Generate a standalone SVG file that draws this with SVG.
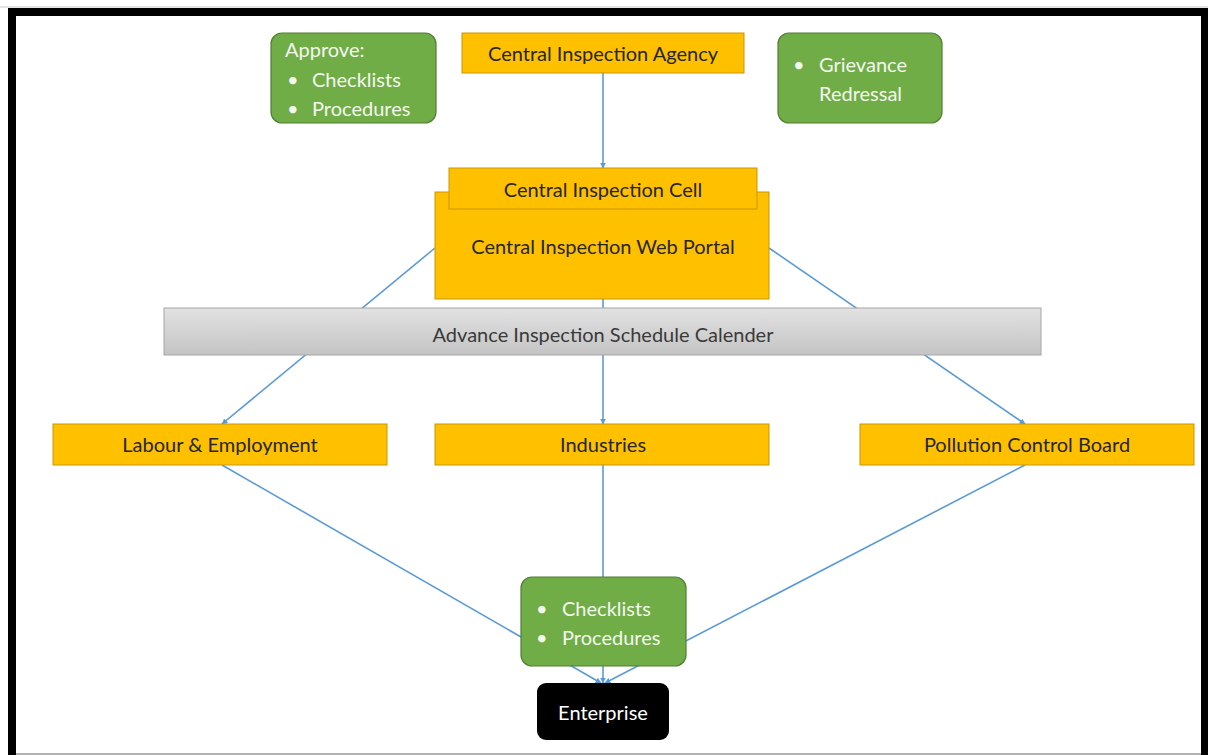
<svg xmlns="http://www.w3.org/2000/svg" width="1208" height="755" viewBox="0 0 1208 755">
<style>
.t{font-family:Lato,"Liberation Sans",sans-serif;font-size:20px}
.dk{fill:#262626}
.lt{fill:#f4f7ee}
.or{fill:#ffc000;stroke:#c99700;stroke-width:1}
.gr{fill:#70ad47;stroke:#507e32;stroke-width:1.2}
.cn{stroke:#5b9bd5;stroke-width:1.6;fill:none}
</style>
<defs>
<marker id="ar" viewBox="0 0 10 10" refX="9" refY="5" markerWidth="6" markerHeight="6" orient="auto" markerUnits="userSpaceOnUse">
<path d="M0,0 L10,5 L0,10 z" fill="#5b9bd5"/>
</marker>
<linearGradient id="gg" x1="0" y1="0" x2="0" y2="1">
<stop offset="0" stop-color="#e2e2e2"/>
<stop offset="1" stop-color="#c4c4c4"/>
</linearGradient>
</defs>
<rect x="0" y="0" width="1208" height="755" fill="#fff"/>
<g id="frame">
<line x1="0" y1="7" x2="1208" y2="7" stroke="#c8c8c8" stroke-width="1"/>
<line x1="16" y1="754" x2="1201" y2="754" stroke="#999" stroke-width="1.5"/>
<rect x="8" y="8" width="1200" height="8" fill="#000"/>
<rect x="8" y="8" width="8" height="747" fill="#000"/>
<rect x="1201" y="8" width="7" height="747" fill="#000"/>
</g>
<g id="connectors">
<line class="cn" x1="603" y1="73" x2="603" y2="168" marker-end="url(#ar)"/>
<line class="cn" x1="435" y1="248" x2="222" y2="424" marker-end="url(#ar)"/>
<line class="cn" x1="769" y1="248" x2="1025" y2="424" marker-end="url(#ar)"/>
<line class="cn" x1="603" y1="299" x2="603" y2="424" marker-end="url(#ar)"/>
<line class="cn" x1="222" y1="465" x2="601" y2="683" marker-end="url(#ar)"/>
<line class="cn" x1="603" y1="465" x2="603" y2="683" marker-end="url(#ar)"/>
<line class="cn" x1="1025" y1="465" x2="605" y2="683" marker-end="url(#ar)"/>
</g>
<g id="approve">
<rect class="gr" x="271" y="33" width="165" height="90" rx="11"/>
<text class="t lt" x="285" y="57">Approve:</text>
<text class="t lt" x="287" y="87">•</text>
<text class="t lt" x="312" y="87">Checklists</text>
<text class="t lt" x="287" y="116">•</text>
<text class="t lt" x="312" y="116">Procedures</text>
</g>
<g id="agency">
<rect class="or" x="462" y="33" width="282" height="40"/>
<text class="t dk" x="603" y="61" text-anchor="middle">Central Inspection Agency</text>
</g>
<g id="grievance">
<rect class="gr" x="778" y="33" width="164" height="90" rx="11"/>
<text class="t lt" x="793" y="72">•</text>
<text class="t lt" x="819" y="72">Grievance</text>
<text class="t lt" x="819" y="101">Redressal</text>
</g>
<g id="portal">
<rect class="or" x="435" y="192" width="334" height="107"/>
<text class="t dk" x="603" y="254" text-anchor="middle">Central Inspection Web Portal</text>
</g>
<g id="cell">
<rect class="or" x="449" y="168" width="308" height="41"/>
<text class="t dk" x="603" y="197" text-anchor="middle">Central Inspection Cell</text>
</g>
<g id="calendar">
<rect x="164" y="308" width="877" height="47" fill="url(#gg)" stroke="#a6a6a6" stroke-width="1"/>
<text class="t" x="603" y="342" text-anchor="middle" fill="#3a3a3a">Advance Inspection Schedule Calender</text>
</g>
<g id="labour">
<rect class="or" x="53" y="424" width="334" height="41"/>
<text class="t dk" x="220" y="452" text-anchor="middle">Labour &amp; Employment</text>
</g>
<g id="industries">
<rect class="or" x="435" y="424" width="334" height="41"/>
<text class="t dk" x="603" y="452" text-anchor="middle">Industries</text>
</g>
<g id="pollution">
<rect class="or" x="860" y="424" width="334" height="41"/>
<text class="t dk" x="1027" y="452" text-anchor="middle">Pollution Control Board</text>
</g>
<g id="checklists">
<rect class="gr" x="521" y="577" width="165" height="89" rx="11"/>
<text class="t lt" x="536" y="616">•</text>
<text class="t lt" x="562" y="616">Checklists</text>
<text class="t lt" x="536" y="645">•</text>
<text class="t lt" x="562" y="645">Procedures</text>
</g>
<g id="enterprise">
<rect x="537" y="683" width="132" height="57" rx="9" fill="#000"/>
<text class="t" x="603" y="720" text-anchor="middle" fill="#fff">Enterprise</text>
</g>
</svg>
